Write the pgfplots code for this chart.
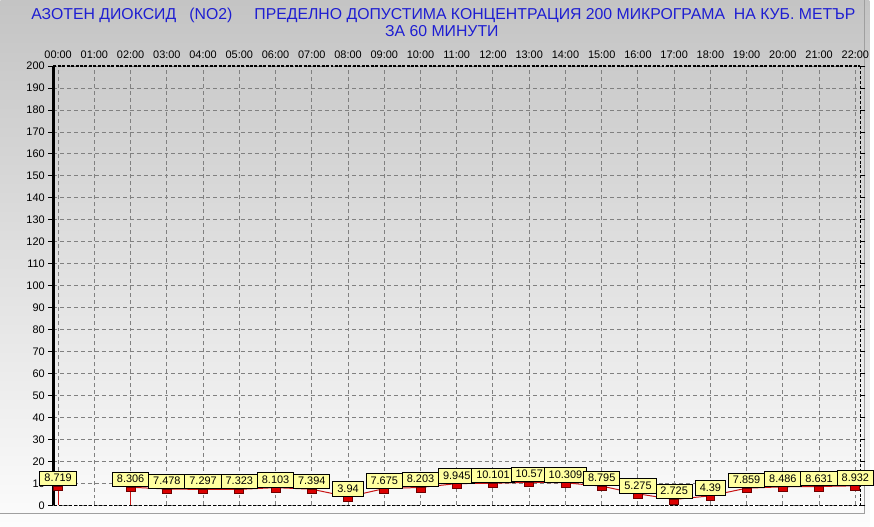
\documentclass[border=0pt]{standalone}
\usepackage{pgfplots}
\pgfplotsset{compat=1.18}
\usepackage{pgfplotstable}
\usepackage{fontspec}
\setmainfont{Liberation Sans}
\definecolor{bgtop}{RGB}{196,196,196}
\definecolor{bgbot}{RGB}{252,252,252}
\definecolor{ttl}{RGB}{30,30,210}
\definecolor{lblfill}{RGB}{255,255,160}
\definecolor{mk}{RGB}{220,0,0}
\definecolor{mkd}{RGB}{110,0,0}
\definecolor{ln}{RGB}{200,20,20}
\definecolor{gridc}{RGB}{128,128,128}

\pgfdeclareplotmark{redrect}{%
  \pgfpathrectangle{\pgfpoint{-4.5bp}{-4.5bp}}{\pgfpoint{9bp}{4.5bp}}%
  \pgfusepathqfillstroke}

\pgfplotstableread{
x y lab
0 8.719 8.719
}\firstpoint

\pgfplotstableread{
x y lab
2 8.306 8.306
3 7.478 7.478
4 7.297 7.297
5 7.323 7.323
6 8.103 8.103
7 7.394 7.394
8 3.94 3.94
9 7.675 7.675
10 8.203 8.203
11 9.945 9.945
12 10.101 10.101
13 10.57 10.57
14 10.309 10.309
15 8.795 8.795
16 5.275 5.275
17 2.725 2.725
18 4.39 4.39
19 7.859 7.859
20 8.486 8.486
21 8.631 8.631
22 8.932 8.932
}\mainseries

\begin{document}
\begin{tikzpicture}
\shade[top color=bgtop, bottom color=bgbot] (0,0) rectangle (874bp,529bp);
\draw[gray!75, line width=1bp] (869.5bp,529bp) -- (869.5bp,12.5bp) -- (0,12.5bp);
\node[anchor=base, text=ttl, font=\fontsize{15.9bp}{18bp}\selectfont, inner sep=0pt] at (445.5bp,510bp)
  {АЗОТЕН ДИОКСИД\ \ \ (NO2)\ \ \ \ \ ПРЕДЕЛНО ДОПУСТИМА КОНЦЕНТРАЦИЯ 200 МИКРОГРАМА\ \ НА КУБ. МЕТЪР};
\node[anchor=base, text=ttl, font=\fontsize{15.9bp}{18bp}\selectfont, inner sep=0pt] at (444bp,493bp)
  {ЗА 60 МИНУТИ};
\begin{axis}[
  at={(53bp,21bp)}, anchor=south west,
  scale only axis, width=812bp, height=442bp,
  xmin=-0.137, xmax=22.137, ymin=0, ymax=200,
  xtick={0,...,22},
  xticklabels={00:00,01:00,02:00,03:00,04:00,05:00,06:00,07:00,08:00,09:00,10:00,11:00,12:00,13:00,14:00,15:00,16:00,17:00,18:00,19:00,20:00,21:00,22:00},
  xticklabel pos=right,
  ytick={0,10,...,200},
  /pgf/number format/assume math mode=true,
  tick label style={font=\fontsize{11bp}{13bp}\selectfont, black},
  xtick style={draw=none},
  ytick style={black, line width=1bp},
  tick align=outside,
  major tick length=5bp,
  xticklabel style={yshift=-1bp},
  axis line style={draw=none},
  grid=major,
  major grid style={gridc, line width=1bp, dash pattern=on 4bp off 3bp},
  clip=false,
]
\draw[black, line width=1.8bp, dash pattern=on 3bp off 1.5bp] (rel axis cs:0,1) -- (rel axis cs:1,1);
\draw[black, line width=1bp, dash pattern=on 3bp off 2bp] (rel axis cs:1,1) -- (rel axis cs:1,0) -- (rel axis cs:0,0);
\draw[black, line width=3bp] (rel axis cs:0,0) -- (rel axis cs:0,1);
% drop lines
\addplot[ln, line width=1bp, forget plot] coordinates {(0,0) (0,8.719)};
\addplot[ln, line width=1bp, forget plot] coordinates {(2,0) (2,8.306)};
\addplot[ln, line width=1bp, mark=redrect, mark options={fill=mk, draw=mkd, line width=0.8bp},
  point meta=explicit symbolic,
  nodes near coords={\pgfplotspointmeta},
  nodes near coords style={anchor=south, fill=lblfill, draw=black, line width=1bp, text=black,
     font=\fontsize{11bp}{13bp}\selectfont, inner xsep=4.5bp, inner ysep=2.5bp,
     text height=8bp, text depth=1.5bp}]
  table[x=x, y=y, meta=lab] {\firstpoint};
\addplot[ln, line width=1bp, mark=redrect, mark options={fill=mk, draw=mkd, line width=0.8bp},
  point meta=explicit symbolic,
  nodes near coords={\pgfplotspointmeta},
  nodes near coords style={anchor=south, fill=lblfill, draw=black, line width=1bp, text=black,
     font=\fontsize{11bp}{13bp}\selectfont, inner xsep=4.5bp, inner ysep=2.5bp,
     text height=8bp, text depth=1.5bp}]
  table[x=x, y=y, meta=lab] {\mainseries};
\end{axis}
\end{tikzpicture}
\end{document}
